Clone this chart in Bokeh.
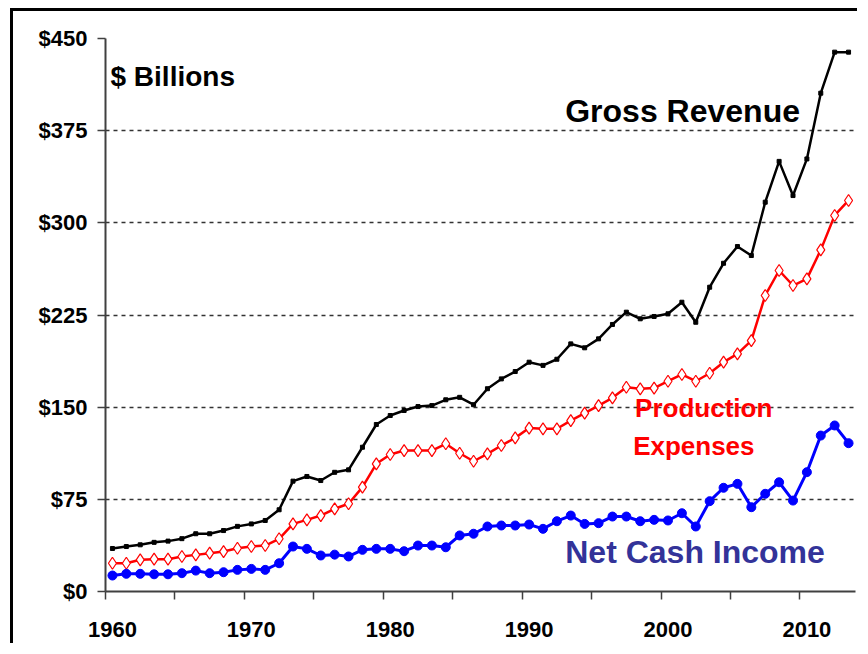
from bokeh.plotting import figure
from bokeh.models import Range1d, FixedTicker, NumeralTickFormatter
from bokeh.core.properties import value
from bokeh.embed import file_html
from bokeh.resources import INLINE

years = list(range(1960, 2014))

gross_revenue = [35, 36.6, 38, 40, 41, 43, 47, 47, 49.6, 53,
                 55, 57.8, 66.5, 89.8, 93.6, 90.3, 97, 99, 117.4, 135.9,
                 143.2, 147.3, 150.5, 151.3, 156, 158, 152, 165, 173, 179,
                 186.6, 184, 189, 201.5, 198.3, 205.6, 217.3, 227.3, 221.9, 223.8,
                 226, 235.4, 219.1, 247.6, 267.1, 280.7, 273.4, 316.8, 350, 322.2,
                 352, 405.5, 438.9, 438.9]

production_expenses = [23, 23, 25.8, 26.3, 26.3, 28.5, 29.8, 31.2, 32.5, 35.2,
                       36.6, 37.4, 42.9, 55, 58.3, 61.8, 67.3, 71.4, 84.9, 103.9,
                       111.5, 114.7, 114.7, 114.7, 120.2, 112.5, 106, 112, 118.8, 125,
                       133, 132.4, 132.4, 139.1, 145.1, 151.3, 157.6, 166.2, 164.9, 165.5,
                       171.1, 176.6, 171.1, 177.6, 186.6, 193.4, 204.2, 240.9, 261.2, 249,
                       254.4, 278, 306, 318.2]

net_cash_income = [13, 14.4, 14.4, 14, 14, 14.9, 17, 14.9, 15.7, 17.6,
                   18.4, 17.6, 23, 36.6, 34.7, 29.3, 30, 28.5, 33.9, 34.7,
                   34.7, 32.8, 37.4, 37.4, 36, 45.6, 47, 52.9, 53.7, 53.7,
                   54.5, 51, 57.2, 61.8, 55, 55.6, 61, 61, 57.2, 58.3,
                   57.8, 63.7, 52.9, 73.5, 84.4, 87.6, 68.6, 79.5, 88.9, 74,
                   97.1, 126.9, 135.1, 120.7]

y_ticks = [0, 75, 150, 225, 300, 375, 450]
x_label_years = [1960, 1970, 1980, 1990, 2000, 2010]
x_tick_marks = [1959.5, 1964.5, 1969.5, 1974.5, 1979.5, 1984.5, 1989.5, 1994.5, 1999.5, 2004.5, 2009.5]

FONT = value("Liberation Sans")

p = figure(width=847, height=635, output_backend="svg", toolbar_location=None,
           x_range=Range1d(1959.5, 2013.5), y_range=Range1d(0, 450),
           min_border_left=92, min_border_right=5, min_border_top=27, min_border_bottom=55)
p.styles = {"border-left": "3px solid black", "border-top": "3px solid black",
            "margin-left": "10px", "margin-top": "8px"}
p.outline_line_color = None
p.background_fill_color = "white"
p.border_fill_color = "white"

# axes
p.xaxis.ticker = FixedTicker(ticks=x_label_years, minor_ticks=x_tick_marks)
p.xaxis.major_tick_out = 0
p.xaxis.major_tick_in = 0
p.xaxis.minor_tick_out = 8
p.xaxis.minor_tick_in = 0
p.xaxis.minor_tick_line_color = "#404040"
p.xaxis.minor_tick_line_width = 1.5
p.xaxis.major_label_standoff = 22

p.yaxis.ticker = FixedTicker(ticks=y_ticks)
p.yaxis.formatter = NumeralTickFormatter(format="$0")
p.yaxis.major_tick_out = 8
p.yaxis.major_tick_in = 0
p.yaxis.minor_tick_line_color = None
p.yaxis.major_label_standoff = 10

for ax in (p.xaxis, p.yaxis):
    ax.axis_line_color = "#404040"
    ax.axis_line_width = 2
    ax.major_tick_line_color = "#404040"
    ax.major_tick_line_width = 1.5
    ax.major_label_text_font = "Liberation Sans"
    ax.major_label_text_font_style = "bold"
    ax.major_label_text_font_size = "22px"
    ax.major_label_text_color = "black"

p.xgrid.grid_line_color = None
p.ygrid.ticker = FixedTicker(ticks=y_ticks[1:])
p.ygrid.grid_line_color = "#333333"
p.ygrid.grid_line_dash = "4 4"
p.ygrid.grid_line_width = 1.5

# series
p.line(years, gross_revenue, line_color="black", line_width=2.5)
p.scatter(years, gross_revenue, marker="square", size=4, color="black")

p.line(years, production_expenses, line_color="#ff0000", line_width=2.5)
p.scatter(years, production_expenses, marker="diamond", size=12, line_color="#ff0000",
          fill_color="white", line_width=1.2)

p.line(years, net_cash_income, line_color="#0000ff", line_width=3)
p.scatter(years, net_cash_income, marker="circle", size=9, color="#0000ff")

# annotations
p.text(x=[1959.86], y=[419], text=["$ Billions"], text_font=FONT, text_font_style="bold",
       text_font_size="28px", text_color="black", text_baseline="middle", text_align="left")
p.text(x=[1992.6], y=[391], text=["Gross Revenue"], text_font=FONT, text_font_style="bold",
       text_font_size="32px", text_color="black", text_baseline="middle", text_align="left")
p.text(x=[1997.63], y=[149], text=["Production"], text_font=FONT, text_font_style="bold",
       text_font_size="26px", text_color="#ff0000", text_baseline="middle", text_align="left")
p.text(x=[1997.49], y=[118], text=["Expenses"], text_font=FONT, text_font_style="bold",
       text_font_size="26px", text_color="#ff0000", text_baseline="middle", text_align="left")
p.text(x=[1992.6], y=[32.5], text=["Net Cash Income"], text_font=FONT, text_font_style="bold",
       text_font_size="32px", text_color="#333399", text_baseline="middle", text_align="left")

open("out.html", "w").write(file_html(p, INLINE))
